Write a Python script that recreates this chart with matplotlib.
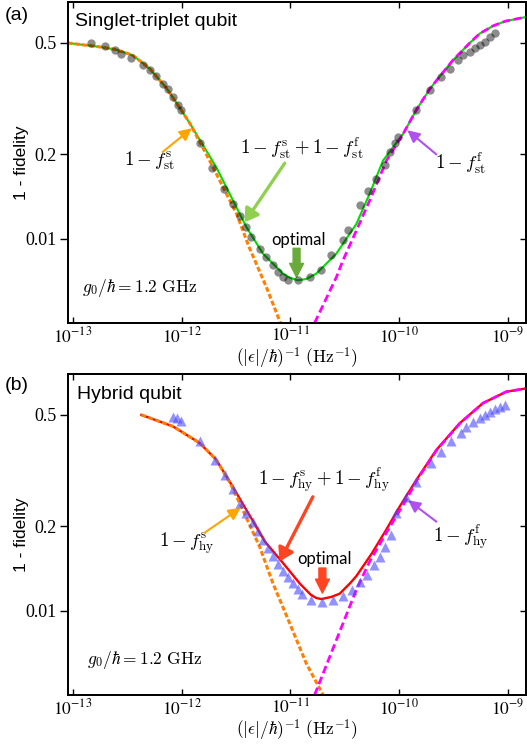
import matplotlib
matplotlib.use('Agg')
import matplotlib.pyplot as plt
from matplotlib.ticker import FixedLocator, FixedFormatter, NullLocator

plt.rcParams['mathtext.fontset'] = 'stix'
plt.rcParams['font.family'] = ['Liberation Sans', 'DejaVu Sans']

# ---- (a) singlet-triplet qubit ----
st_slow_x = [8.9e-14, 1.76e-13, 2.5e-13, 3.55e-13, 5.07e-13, 7.28e-13, 9.5e-13, 1.19e-12,
             1.86e-12, 3.19e-12, 4.17e-12, 6.01e-12, 8.1e-12]
st_slow_y = [0.5, 0.484, 0.473, 0.452, 0.405, 0.344, 0.295, 0.258,
             0.186, 0.123, 0.0933, 0.0672, 0.05]

st_fast_x = [1.67e-11, 2.65e-11, 3.05e-11, 4.05e-11, 5.37e-11, 7.64e-11, 1.09e-10, 1.44e-10,
             1.91e-10, 2.45e-10, 3.13e-10, 4.47e-10, 5.52e-10, 7.31e-10, 9.5e-10, 1.48e-9]
st_fast_y = [0.05, 0.0729, 0.0838, 0.107, 0.137, 0.190, 0.237, 0.288,
             0.342, 0.386, 0.434, 0.500, 0.540, 0.575, 0.598, 0.619]

st_sum_x = [8.9e-14, 1.76e-13, 2.5e-13, 3.55e-13, 5.07e-13, 7.28e-13, 9.5e-13, 1.19e-12,
            2.08e-12, 3.94e-12, 5.59e-12, 8.55e-12, 9.86e-12, 1.17e-11, 1.40e-11, 1.73e-11,
            2.65e-11, 4.05e-11, 5.37e-11, 7.11e-11, 1.09e-10, 1.44e-10, 1.91e-10, 2.45e-10,
            3.13e-10, 4.47e-10, 5.52e-10, 7.31e-10, 9.5e-10, 1.48e-9]
st_sum_y = [0.5, 0.484, 0.473, 0.452, 0.405, 0.344, 0.295, 0.258,
            0.180, 0.110, 0.0885, 0.075, 0.0726, 0.071, 0.0718, 0.075,
            0.0885, 0.113, 0.145, 0.190, 0.237, 0.288, 0.342, 0.386,
            0.434, 0.500, 0.540, 0.575, 0.598, 0.619]

st_dot_x = [1.48e-13, 1.96e-13, 2.42e-13, 2.79e-13, 3.44e-13, 4.40e-13, 5.07e-13, 5.85e-13,
            6.73e-13, 7.48e-13, 8.32e-13, 9.25e-13, 9.93e-13, 1.46e-12, 1.89e-12, 2.43e-12,
            2.96e-12, 3.42e-12, 3.94e-12, 4.38e-12, 5.22e-12, 6.01e-12, 6.92e-12, 7.69e-12,
            8.55e-12, 9.51e-12, 1.17e-11, 1.51e-11, 1.93e-11, 2.38e-11, 3.05e-11, 3.39e-11,
            4.34e-11, 5.2e-11, 6.18e-11, 7.37e-11, 8.2e-11, 9.12e-11, 9.71e-11, 1.44e-10,
            1.91e-10, 2.45e-10, 2.92e-10, 3.48e-10, 3.87e-10, 4.47e-10, 4.97e-10, 5.52e-10,
            6.13e-10, 6.81e-10, 7.57e-10]
st_dot_y = [0.498, 0.487, 0.471, 0.456, 0.440, 0.416, 0.399, 0.380,
            0.358, 0.341, 0.321, 0.299, 0.288, 0.220, 0.179, 0.151,
            0.133, 0.121, 0.110, 0.101, 0.0922, 0.0861, 0.0804, 0.0760,
            0.0729, 0.0714, 0.0710, 0.0729, 0.0771, 0.0873, 0.0987, 0.107,
            0.132, 0.148, 0.164, 0.183, 0.204, 0.219, 0.230, 0.288,
            0.339, 0.378, 0.405, 0.434, 0.452, 0.465, 0.478, 0.491,
            0.505, 0.523, 0.541]

# ---- (b) hybrid qubit ----
hy_slow_x = [4.26e-13, 8.32e-13, 1.46e-12, 2.08e-12, 2.8e-12, 3.54e-12, 5.22e-12, 6.92e-12,
             9.86e-12, 1.40e-11, 2.0e-11]
hy_slow_y = [0.5, 0.455, 0.397, 0.346, 0.285, 0.235, 0.169, 0.125,
             0.0901, 0.0648, 0.05]

hy_fast_x = [1.67e-11, 2.65e-11, 4.05e-11, 5.37e-11, 7.64e-11, 1.17e-10, 1.44e-10, 2.20e-10,
             3.61e-10, 5.91e-10, 9.67e-10, 1.48e-9]
hy_fast_y = [0.05, 0.0786, 0.119, 0.150, 0.190, 0.250, 0.290, 0.373,
             0.466, 0.551, 0.605, 0.622]

hy_sum_x = [4.26e-13, 8.32e-13, 1.46e-12, 2.08e-12, 2.90e-12, 3.94e-12, 5.8e-12, 8.55e-12,
            1.22e-11, 1.54e-11, 1.73e-11, 1.93e-11, 2.38e-11, 2.84e-11, 3.52e-11, 4.05e-11,
            5.6e-11, 7.64e-11, 1.01e-10, 1.44e-10, 2.20e-10, 3.61e-10, 5.91e-10, 9.67e-10,
            1.48e-9]
hy_sum_y = [0.5, 0.455, 0.397, 0.346, 0.28, 0.229, 0.177, 0.148,
            0.125, 0.114, 0.111, 0.110, 0.112, 0.115, 0.125, 0.133,
            0.160, 0.195, 0.235, 0.293, 0.375, 0.467, 0.551, 0.605,
            0.622]

hy_tri_x = [8.32e-13, 9.0e-13, 9.8e-13, 1.46e-12, 2.01e-12, 2.49e-12, 2.96e-12, 3.42e-12,
            3.88e-12, 4.50e-12, 5.0e-12, 5.56e-12, 6.18e-12, 6.87e-12, 7.64e-12, 8.49e-12,
            9.44e-12, 1.05e-11, 1.17e-11, 1.27e-11, 1.54e-11, 1.94e-11, 2.45e-11, 3.03e-11,
            3.66e-11, 4.34e-11, 5.04e-11, 5.84e-11, 6.63e-11, 7.37e-11, 8.38e-11, 9.45e-11,
            1.15e-10, 1.44e-10, 1.98e-10, 2.45e-10, 3.03e-10, 3.68e-10, 4.16e-10, 4.79e-10,
            5.52e-10, 6.13e-10, 6.81e-10, 7.57e-10, 8.43e-10, 9.36e-10]
hy_tri_y = [0.493, 0.486, 0.477, 0.402, 0.345, 0.305, 0.272, 0.243,
            0.224, 0.207, 0.193, 0.179, 0.168, 0.157, 0.147, 0.139,
            0.132, 0.126, 0.120, 0.115, 0.109, 0.107, 0.109, 0.113,
            0.119, 0.127, 0.134, 0.145, 0.156, 0.169, 0.186, 0.223,
            0.255, 0.289, 0.336, 0.370, 0.402, 0.430, 0.454, 0.473,
            0.486, 0.5, 0.514, 0.524, 0.535, 0.543]

XLIM = (9.0e-14, 1.47e-9)
YLIM = (0.05, 0.7)
XTICKS = [1e-13, 1e-12, 1e-11, 1e-10, 1e-9]
XTICKLABELS = [r'$10^{-13}$', r'$10^{-12}$', r'$10^{-11}$', r'$10^{-10}$', r'$10^{-9}$']
YTICKS = [0.5, 0.2, 0.1]
YTICKLABELS = ['0.5', '0.2', '0.01']

ORANGE = '#ff7f00'
MAGENTA = '#ff00ff'
ARROW_PURPLE = '#b050f0'
ARROW_ORANGE = '#ffa500'


def style_axes(ax):
  ax.set_xscale('log')
  ax.set_yscale('log')
  ax.set_xlim(*XLIM)
  ax.set_ylim(*YLIM)
  ax.xaxis.set_major_locator(FixedLocator(XTICKS))
  ax.xaxis.set_major_formatter(FixedFormatter(XTICKLABELS))
  ax.xaxis.set_minor_locator(NullLocator())
  ax.yaxis.set_major_locator(FixedLocator(YTICKS))
  ax.yaxis.set_major_formatter(FixedFormatter(YTICKLABELS))
  ax.yaxis.set_minor_locator(NullLocator())
  ax.tick_params(axis='x', which='major', direction='in', top=True, length=4, width=1,
                 labelsize=12.5, pad=2)
  ax.tick_params(axis='y', which='major', direction='out', length=6, width=1,
                 labelsize=13, labelfontfamily='Liberation Serif', pad=2)
  for s in ax.spines.values():
    s.set_linewidth(1.3)
  # right side ticks point inwards
  rax = ax.twinx()
  rax.set_yscale('log')
  rax.set_ylim(*YLIM)
  rax.yaxis.set_major_locator(FixedLocator(YTICKS))
  rax.yaxis.set_minor_locator(NullLocator())
  rax.tick_params(axis='y', direction='in', length=4, width=1, labelright=False)
  for s in rax.spines.values():
    s.set_linewidth(1.3)
  ax.set_xlabel(r'$(|\epsilon|/\hbar)^{-1}\ (\mathrm{Hz}^{-1})$', fontsize=12.5,
                math_fontfamily='cm', labelpad=0)
  ax.set_ylabel('1 - fidelity', fontsize=12.5)
  ax.yaxis.set_label_coords(-0.085, 0.5)


def arrow(ax, tail, head, color, lw=1.5, hl=0.6, hw=0.3, ms=12):
  ax.annotate('', xy=head, xytext=tail,
              arrowprops=dict(arrowstyle=f'-|>,head_length={hl},head_width={hw}',
                              color=color, lw=lw, mutation_scale=ms, shrinkA=0, shrinkB=0))


def fat_arrow(ax, tail, head, color):
  ax.annotate('', xy=head, xytext=tail,
              arrowprops=dict(arrowstyle='simple,head_length=1.0,head_width=1.0,tail_width=0.5',
                              color=color, mutation_scale=10, shrinkA=0, shrinkB=0))


fig = plt.figure(figsize=(5.27, 7.44), dpi=100)
ax1 = fig.add_axes([68 / 527, 1 - 323 / 744, 458 / 527, 321 / 744])
ax2 = fig.add_axes([68 / 527, 1 - 695 / 744, 458 / 527, 321 / 744])

# panel (a)
ax1.plot(st_sum_x, st_sum_y, color='#00dd00', lw=1.5, zorder=2)
ax1.plot(st_slow_x, st_slow_y, color=ORANGE, lw=2.2, ls=(0, (1.6, 0.8)), zorder=3)
ax1.plot(st_fast_x, st_fast_y, color=MAGENTA, lw=2.0, ls=(0, (2.8, 1.4)), zorder=3)
ax1.plot(st_dot_x, st_dot_y, 'o', color='k', alpha=0.45, ms=6, mec='none', zorder=4)
style_axes(ax1)

mkw = dict(fontsize=13.5, math_fontfamily='cm', ha='center', va='center')
ax1.text(5.08e-13, 0.190, r'$1-f_{\mathrm{st}}^{\mathrm{s}}$', **mkw)
arrow(ax1, (6.68e-13, 0.204), (1.24e-12, 0.248), ARROW_ORANGE)
ax1.text(1.27e-11, 0.211, r'$1-f_{\mathrm{st}}^{\mathrm{s}}+1-f_{\mathrm{st}}^{\mathrm{f}}$', **mkw)
arrow(ax1, (8.87e-12, 0.186), (3.80e-12, 0.1145), '#90d050', lw=2.4, hl=0.55, hw=0.35, ms=14)
ax1.text(3.69e-10, 0.186, r'$1-f_{\mathrm{st}}^{\mathrm{f}}$', **mkw)
arrow(ax1, (2.20e-10, 0.200), (1.19e-10, 0.244), ARROW_PURPLE)
ax1.text(1.18e-11, 0.0986, 'optimal', fontsize=12, family=['Lato', 'DejaVu Sans'],
         ha='center', va='center')
fat_arrow(ax1, (1.14e-11, 0.0924), (1.14e-11, 0.0728), '#6aaa3a')
ax1.text(1.20e-13, 0.0665, r'$g_0/\hbar = 1.2\ \mathrm{GHz}$', fontsize=12.5,
         math_fontfamily='cm', ha='left', va='center')
ax1.text(0.015, 0.938, 'Singlet-triplet qubit', transform=ax1.transAxes, fontsize=14,
         ha='left', va='center')

# panel (b)
ax2.plot(hy_sum_x, hy_sum_y, color='#ff0000', lw=1.7, zorder=2)
ax2.plot(hy_slow_x, hy_slow_y, color=ORANGE, lw=2.2, ls=(0, (1.6, 0.8)), zorder=3)
ax2.plot(hy_fast_x, hy_fast_y, color=MAGENTA, lw=2.0, ls=(0, (2.8, 1.4)), zorder=3)
ax2.plot(hy_tri_x, hy_tri_y, '^', color='#4848ff', alpha=0.6, ms=6.5, mec='none', zorder=4)
style_axes(ax2)

ax2.text(1.11e-12, 0.1745, r'$1-f_{\mathrm{hy}}^{\mathrm{s}}$', **mkw)
arrow(ax2, (1.63e-12, 0.190), (3.49e-12, 0.233), ARROW_ORANGE)
ax2.text(2.02e-11, 0.293, r'$1-f_{\mathrm{hy}}^{\mathrm{s}}+1-f_{\mathrm{hy}}^{\mathrm{f}}$', **mkw)
arrow(ax2, (1.61e-11, 0.255), (7.97e-12, 0.150), '#ff4422', lw=2.4, hl=0.55, hw=0.35, ms=14)
ax2.text(3.69e-10, 0.183, r'$1-f_{\mathrm{hy}}^{\mathrm{f}}$', **mkw)
arrow(ax2, (2.20e-10, 0.208), (1.21e-10, 0.248), ARROW_PURPLE)
ax2.text(2.07e-11, 0.153, 'optimal', fontsize=12, family=['Lato', 'DejaVu Sans'],
         ha='center', va='center')
fat_arrow(ax2, (1.97e-11, 0.142), (1.97e-11, 0.1156), '#ff4422')
ax2.text(1.36e-13, 0.0667, r'$g_0/\hbar = 1.2\ \mathrm{GHz}$', fontsize=12.5,
         math_fontfamily='cm', ha='left', va='center')
ax2.text(0.02, 0.935, 'Hybrid qubit', transform=ax2.transAxes, fontsize=14,
         ha='left', va='center')

fig.text(5 / 527, 1 - 15 / 744, '(a)', fontsize=14, ha='left', va='center')
fig.text(5 / 527, 1 - 385 / 744, '(b)', fontsize=14, ha='left', va='center')

fig.savefig('out.png', dpi=100)
